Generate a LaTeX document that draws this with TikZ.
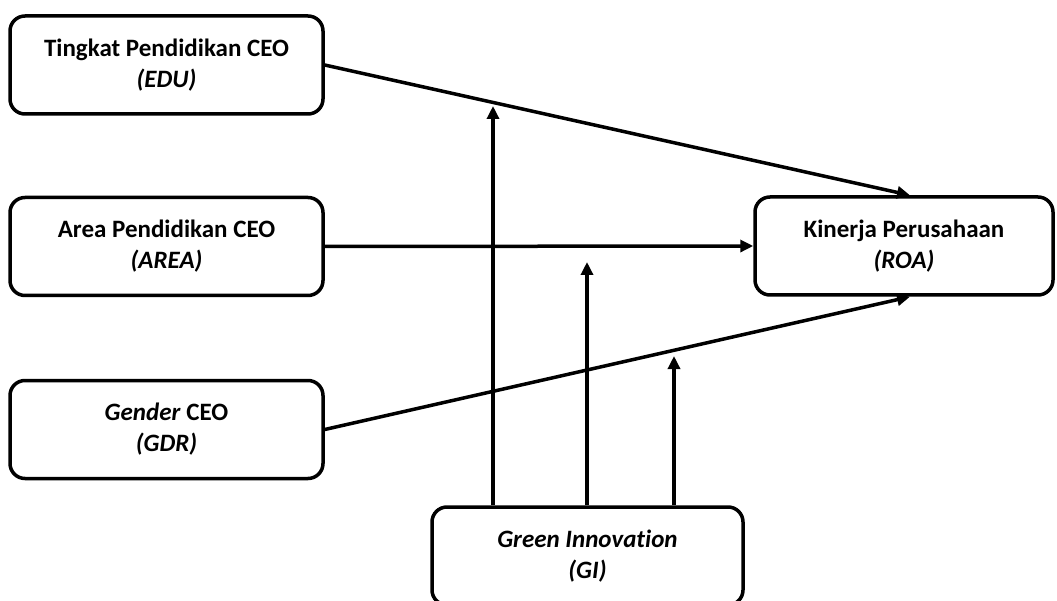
\documentclass[tikz,border=0pt]{standalone}
\usepackage{fontspec}
\setmainfont[Ligatures=NoCommon]{Carlito}
\usetikzlibrary{arrows.meta}
\begin{document}
\begin{tikzpicture}[x=1pt,y=-1pt,
  varbox/.style={draw, line width=3.5pt, rounded corners=15pt, fill=white,
    minimum width=313pt, minimum height=98pt, inner sep=0pt, align=center,
    font=\fontsize{25}{31}\selectfont\bfseries},
  link/.style={line width=3.5pt, -{Triangle[length=13pt,width=12pt]}}]
\useasboundingbox (0,0) rectangle (1057,601);

% variables
\node[varbox] (edu)  at (166.5,65)  {Tingkat Pendidikan CEO\\\textit{(EDU)}};
\node[varbox] (area) at (166.5,246.5) {Area Pendidikan CEO\\\textit{(AREA)}};
\node[varbox] (gdr)  at (166.5,429.5) {\textit{Gender} CEO\\\textit{(GDR)}};
\node[varbox, minimum width=298pt] (roa) at (904,246) {Kinerja Perusahaan\\\textit{(ROA)}};
\node[varbox, minimum width=311pt, font=\fontsize{25}{31}\selectfont\bfseries\itshape] (gi) at (587.5,556) {Green Innovation\\(GI)};

% direct effects
\draw[link] (edu.east) -- ([xshift=6pt]roa.north);
\draw[link] (area.east) -- (roa.west);
\draw[link] (gdr.east) -- ([xshift=6pt]roa.south);

% moderating effects
\coordinate (m1) at (493,106);
\coordinate (m2) at (587,262);
\coordinate (m3) at (674,356);
\draw[link] (gi.north -| m1) -- (m1);
\draw[link] (gi.north -| m2) -- (m2);
\draw[link] (gi.north -| m3) -- (m3);
\end{tikzpicture}
\end{document}
